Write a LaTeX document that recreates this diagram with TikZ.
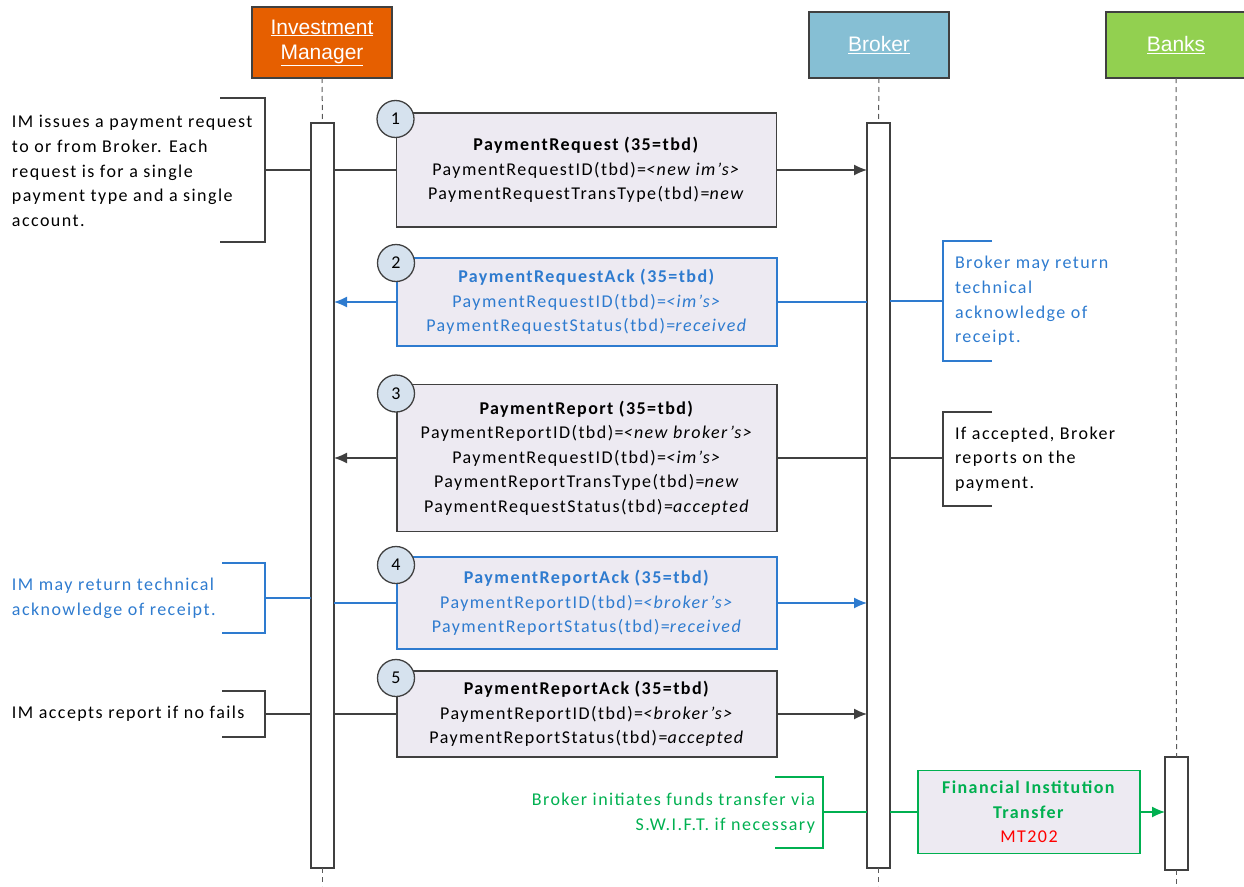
\documentclass[tikz,border=0pt]{standalone}
\usepackage{fontspec}
\setmainfont{Carlito}
\newfontfamily\wfont[LetterSpace=8]{Carlito}
\newfontfamily\hdfont{Liberation Sans}
\usetikzlibrary{arrows.meta,calc}
\definecolor{imorange}{RGB}{230,95,0}
\definecolor{brblue}{RGB}{134,191,212}
\definecolor{bkgreen}{RGB}{146,208,80}
\definecolor{msgfill}{RGB}{237,234,242}
\definecolor{numfill}{RGB}{214,226,238}
\definecolor{darkline}{RGB}{64,64,64}
\definecolor{lifegray}{RGB}{90,90,90}
\definecolor{fixblue}{RGB}{46,123,207}
\definecolor{fixgreen}{RGB}{0,176,80}
\definecolor{fixred}{RGB}{255,0,0}
\begin{document}
\begin{tikzpicture}[x=1pt,y=-1pt,
  every node/.style={inner sep=0pt, outer sep=0pt},
  hdr/.style={draw=darkline, line width=1.5pt, minimum width=140pt, font=\hdfont\fontsize{21}{25}\selectfont, text=white, align=center},
  act/.style={draw=darkline, fill=white, line width=1.3pt, minimum width=23pt},
  msg/.style={draw=darkline, fill=msgfill, line width=1.5pt, minimum width=380pt, align=center, font=\wfont\fontsize{18}{24.6}\selectfont},
  num/.style={circle, draw=darkline, fill=numfill, line width=1.3pt, minimum size=37pt, font=\fontsize{18}{18}\selectfont},
  life/.style={draw=lifegray, line width=1pt, dash pattern=on 5pt off 4pt},
  note/.style={font=\wfont\fontsize{18}{24.6}\selectfont},
  brk/.style={draw=darkline, line width=1.3pt},
  arr/.style={draw=darkline, line width=1.3pt, -{Latex[length=13pt,width=11pt]}},
]
\useasboundingbox (0,0) rectangle (1244,886);

% headers
\node[hdr, fill=imorange, minimum height=71pt] (im) at (322,42.5) {\underline{Investment}\\\underline{Manager}};
\node[hdr, fill=brblue, minimum height=66pt] (br) at (879,45) {\underline{Broker}};
\node[hdr, fill=bkgreen, minimum height=66pt] (bk) at (1176,45) {\underline{Banks}};

% activations
\node[act, minimum height=745pt] (imact) at (322.5,495.5) {};
\node[act, minimum height=745pt] (bract) at (878.5,495.5) {};
\node[act, minimum height=113pt] (bkact) at (1176.5,813.5) {};

\coordinate (imend) at (322.5,886);
\coordinate (brend) at (878.5,886);
\coordinate (bkend) at (1176.5,886);
\draw[life] (im.south) -- (imact.north);
\draw[life] (imact.south) -- (imend);
\draw[life] (br.south) -- (bract.north);
\draw[life] (bract.south) -- (brend);
\draw[life] (bk.south) -- (bkact.north);
\draw[life] (bkact.south) -- (bkend);

% message 1
\node[msg, minimum height=114pt] (m1) at (586.5,170) {\textbf{PaymentRequest (35=tbd)}\\PaymentRequestID(tbd)=\textit{<new im’s>}\\PaymentRequestTransType(tbd)=\textit{new}};
\node[num] (c1) at ($(m1.north west)+(-1,6)$) {1};
\node[note, anchor=west, align=left] (n1) at (12,171) {IM issues a payment request\\to or from Broker. Each\\request is for a single\\payment type and a single\\account.};
\coordinate (b1) at (265,170);
\draw[brk] (220,98) -- (265,98) -- (265,242) -- (220,242);
\draw[brk] (b1) -- (imact.west |- b1);
\draw[brk] (imact.east |- m1.west) -- (m1.west);
\draw[arr] (m1.east) -- (bract.west |- m1.east);

% message 2
\node[msg, draw=fixblue, text=fixblue, minimum height=88pt] (m2) at (587,302) {\textbf{PaymentRequestAck (35=tbd)}\\PaymentRequestID(tbd)=\textit{<im’s>}\\PaymentRequestStatus(tbd)=\textit{received}};
\node[num] (c2) at ($(m2.north west)+(-1,5)$) {2};
\node[note, text=fixblue, anchor=west, align=left] (n2) at (955,301) {Broker may return\\technical\\acknowledge of\\receipt.};
\coordinate (b2) at (943,301);
\draw[brk, draw=fixblue] (992,241) -- (943,241) -- (943,361) -- (992,361);
\draw[brk, draw=fixblue] (b2) -- (bract.east |- b2);
\draw[brk, draw=fixblue] (bract.west |- m2.east) -- (m2.east);
\draw[arr, draw=fixblue, fill=fixblue] (m2.west) -- (imact.east |- m2.west);

% message 3
\node[msg, minimum height=147pt] (m3) at (587,458) {\textbf{PaymentReport (35=tbd)}\\PaymentReportID(tbd)=\textit{<new broker’s>}\\PaymentRequestID(tbd)=\textit{<im’s>}\\PaymentReportTransType(tbd)=\textit{new}\\PaymentRequestStatus(tbd)=\textit{accepted}};
\node[num] (c3) at ($(m3.north west)+(-1,9)$) {3};
\node[note, anchor=west, align=left] (n3) at (955,459) {If accepted, Broker\\reports on the\\payment.};
\coordinate (b3) at (943,458);
\draw[brk] (992,412) -- (943,412) -- (943,506) -- (992,506);
\draw[brk] (b3) -- (bract.east |- b3);
\draw[brk] (bract.west |- m3.east) -- (m3.east);
\draw[arr] (m3.west) -- (imact.east |- m3.west);

% message 4
\node[msg, draw=fixblue, text=fixblue, minimum height=92pt] (m4) at (587,603) {\textbf{PaymentReportAck (35=tbd)}\\PaymentReportID(tbd)=\textit{<broker’s>}\\PaymentReportStatus(tbd)=\textit{received}};
\node[num] (c4) at ($(m4.north west)+(-1,8)$) {4};
\node[note, text=fixblue, anchor=west, align=left] (n4) at (12,598) {IM may return technical\\acknowledge of receipt.};
\coordinate (b4) at (265,598);
\draw[brk, draw=fixblue] (222,563) -- (265,563) -- (265,633) -- (222,633);
\draw[brk, draw=fixblue] (b4) -- (imact.west |- b4);
\draw[brk, draw=fixblue] (imact.east |- m4.west) -- (m4.west);
\draw[arr, draw=fixblue, fill=fixblue] (m4.east) -- (bract.west |- m4.east);

% message 5
\node[msg, minimum height=86pt] (m5) at (587,714) {\textbf{PaymentReportAck (35=tbd)}\\PaymentReportID(tbd)=\textit{<broker’s>}\\PaymentReportStatus(tbd)=\textit{accepted}};
\node[num] (c5) at ($(m5.north west)+(-1,7)$) {5};
\node[note, anchor=west, align=left] (n5) at (12,714) {IM accepts report if no fails};
\coordinate (b5) at (265,714);
\draw[brk] (222,691) -- (265,691) -- (265,737) -- (222,737);
\draw[brk] (b5) -- (imact.west |- b5);
\draw[brk] (imact.east |- m5.west) -- (m5.west);
\draw[arr] (m5.east) -- (bract.west |- m5.east);

% message 6 (S.W.I.F.T.)
\node[msg, draw=fixgreen, text=fixgreen, minimum width=222pt, minimum height=83pt] (m6) at (1029,812) {\textbf{Financial Institution}\\\textbf{Transfer}\\\textcolor{fixred}{MT202}};
\node[note, text=fixgreen, anchor=east, align=right] (n6) at (815,813) {Broker initiates funds transfer via\\S.W.I.F.T. if necessary};
\coordinate (b6) at (823,812);
\draw[brk, draw=fixgreen] (775,777) -- (823,777) -- (823,848) -- (775,848);
\draw[brk, draw=fixgreen] (b6) -- (bract.west |- b6);
\draw[brk, draw=fixgreen] (bract.east |- m6.west) -- (m6.west);
\draw[arr, draw=fixgreen, fill=fixgreen] (m6.east) -- (bkact.west |- m6.east);
\end{tikzpicture}
\end{document}
